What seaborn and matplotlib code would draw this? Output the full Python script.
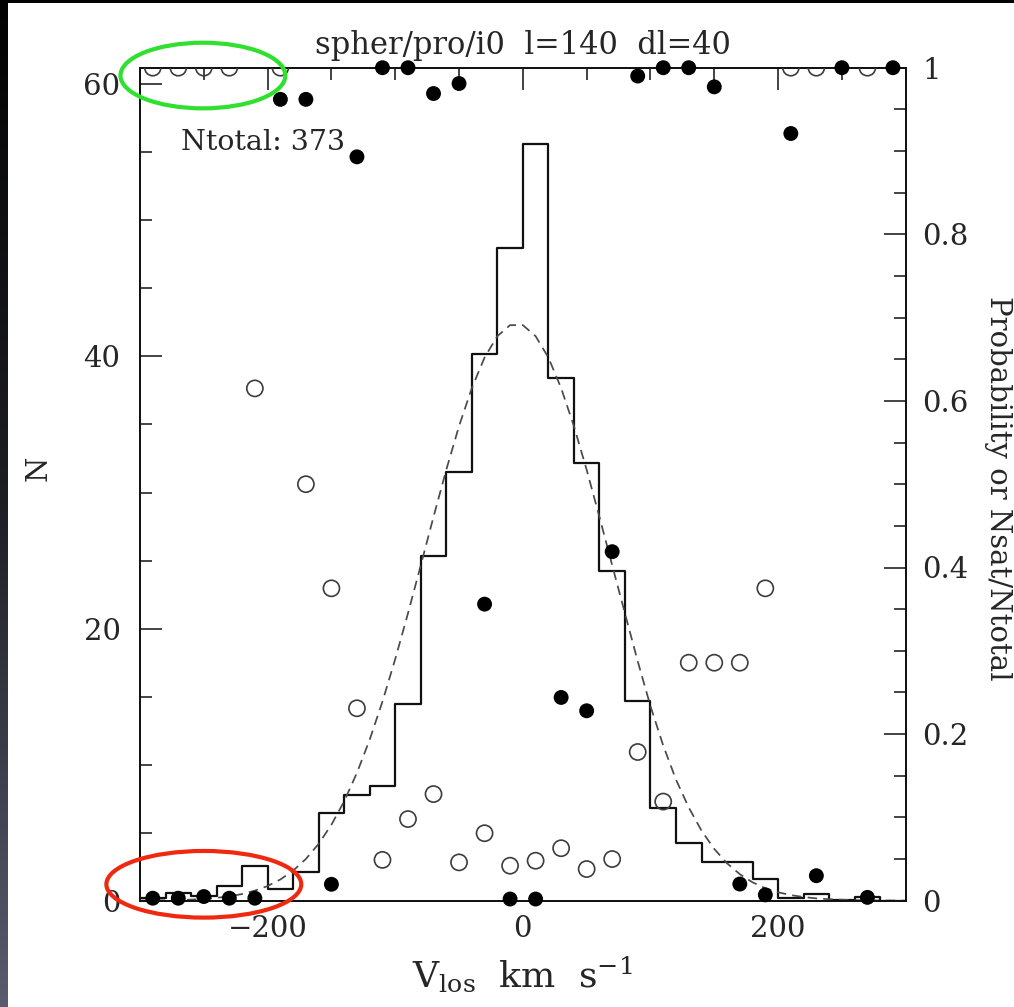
import numpy as np
import matplotlib
matplotlib.use("Agg")
import matplotlib.pyplot as plt
import seaborn as sns
from matplotlib.patches import Ellipse, Rectangle
from matplotlib.ticker import MultipleLocator, FixedLocator, FuncFormatter
from matplotlib.colors import LinearSegmentedColormap

# ---------------- data ----------------
bin_edges = [-300, -280, -260, -240, -220, -200, -180, -160, -140, -120, -100,
             -80, -60, -40, -20, 0, 20, 40, 60, 80, 100, 120, 140, 160, 180,
             200, 220, 240, 260, 280, 300]
hist_n = [0.2, 0.59, 0.35, 1.08, 2.55, 0.86, 2.09, 6.45, 7.8, 8.45, 14.46,
          25.3, 31.5, 40.2, 48.0, 55.6, 38.4, 32.2, 24.25, 14.68, 6.81, 4.22,
          2.84, 2.84, 1.59, 0.2, 0.47, 0.05, 0.25, 0.0]

fit_v = [-300, -290, -280, -270, -260, -250, -240, -230, -220, -210, -200,
         -190, -180, -170, -160, -150, -140, -130, -120, -110, -100, -90, -80,
         -70, -60, -50, -40, -30, -20, -10, 0, 10, 20, 30, 40, 50, 60, 70, 80,
         90, 100, 110, 120, 130, 140, 150, 160, 170, 180, 190, 200, 210, 220,
         230, 240, 250, 260, 270, 280, 290, 300]
fit_n = [0.01, 0.02, 0.03, 0.05, 0.08, 0.13, 0.21, 0.32, 0.49, 0.74, 1.08,
         1.56, 2.21, 3.07, 4.18, 5.58, 7.31, 9.40, 11.84, 14.64, 17.76, 21.12,
         24.65, 28.21, 31.67, 34.88, 37.67, 39.92, 41.49, 42.30, 42.30, 41.49,
         39.92, 37.67, 34.88, 31.67, 28.21, 24.65, 21.12, 17.60, 14.30, 11.40,
         8.90, 6.85, 5.15, 3.80, 2.75, 1.95, 1.35, 0.92, 0.62, 0.41, 0.27, 0.17,
         0.11, 0.07, 0.04, 0.025, 0.015, 0.01, 0.005]

# open circles (Nsat/Ntotal)
open_v = [-290, -270, -250, -230, -210, -190, -170, -150, -130, -110, -90,
          -70, -50, -30, -10, 10, 30, 50, 70, 90, 110, 130, 150, 170, 190,
          210, 230, 270]
open_p = [1.0, 1.0, 1.0, 1.0, 0.615, 1.0, 0.50, 0.375, 0.231, 0.049, 0.098,
          0.128, 0.046, 0.081, 0.042, 0.048, 0.063, 0.038, 0.050, 0.1785,
          0.119, 0.2857, 0.2857, 0.2857, 0.375, 1.0, 1.0, 1.0]

# filled circles (probability)
fill_v = [-290, -270, -250, -230, -210, -190, -170, -150, -130, -110, -90,
          -70, -50, -30, -10, 10, 30, 50, 70, 90, 110, 130, 150, 170, 190,
          210, 230, 250, 270, 290]
fill_p = [0.003, 0.003, 0.005, 0.003, 0.003, 0.962, 0.962, 0.0197, 0.893,
          1.0, 1.0, 0.969, 0.981, 0.356, 0.002, 0.002, 0.244, 0.228, 0.419,
          0.990, 1.0, 1.0, 0.977, 0.020, 0.007, 0.921, 0.030, 1.0, 0.004, 1.0]

title_text = "spher/pro/i0  l=140  dl=40"
ntotal_text = "Ntotal: 373"

# ---------------- style ----------------
sns.set_style("white")
plt.rcParams["font.family"] = ["DejaVu Serif"]
plt.rcParams["mathtext.fontset"] = "dejavuserif"
plt.rcParams["axes.unicode_minus"] = True

W, H = 1014, 1007
fig = plt.figure(figsize=(W / 100, H / 100), dpi=100)

# dark gradient background + white panel
bg = fig.add_axes([0, 0, 1, 1], zorder=-10)
grad = np.linspace(0, 1, 256)[:, None]
cmap = LinearSegmentedColormap.from_list("bg", ["#030303", "#1e1f25", "#585c6e"])
bg.imshow(grad, aspect="auto", cmap=cmap, extent=[0, 1, 0, 1], origin="upper")
bg.add_patch(Rectangle((8 / W, 0), 1 - 8 / W, 1004 / H, transform=bg.transAxes,
                       facecolor="white", edgecolor="none"))
bg.set_xlim(0, 1)
bg.set_ylim(0, 1)
bg.axis("off")

# main axes
ax = fig.add_axes([140 / W, (H - 900.7) / H, 765.7 / W, 833 / H])
ax.set_facecolor("white")

centers = [(a + b) / 2 for a, b in zip(bin_edges[:-1], bin_edges[1:])]
sns.histplot(x=centers, weights=hist_n, bins=bin_edges, element="step",
             fill=False, color="#111111", linewidth=1.6, ax=ax)
sns.lineplot(x=fit_v, y=fit_n, ax=ax, color="#4a4a4a", linewidth=1.25,
             linestyle=(0, (5.5, 3.5)))

ax2 = ax.twinx()
sns.scatterplot(x=open_v, y=open_p, ax=ax2, marker="o", s=135,
                facecolor="none", edgecolor="#3c3c3c", linewidth=1.2, zorder=3)
sns.scatterplot(x=fill_v, y=fill_p, ax=ax2, marker="o", s=115, color="black",
                edgecolor="none", linewidth=0, clip_on=False, zorder=4)

ax.set_xlim(-300, 300)
ax.set_ylim(0, 61.22)
ax2.set_ylim(0, 1)

# ticks
ax.xaxis.set_major_locator(FixedLocator([-200, 0, 200]))
ax.xaxis.set_minor_locator(MultipleLocator(50))
ax.yaxis.set_major_locator(MultipleLocator(20))
ax.yaxis.set_minor_locator(MultipleLocator(5))
ax.tick_params(which="both", direction="in", top=True, right=False,
               width=1.1, labelsize=21, color="#111111")
ax.tick_params(which="major", length=16)
ax.tick_params(which="minor", length=8.5)
ax.tick_params(axis="x", pad=10)
ax.tick_params(axis="y", pad=14)

ax2.yaxis.set_major_locator(MultipleLocator(0.2))
ax2.yaxis.set_minor_locator(MultipleLocator(0.05))
ax2.yaxis.set_major_formatter(FuncFormatter(lambda v, p: f"{v:g}"))
ax2.tick_params(which="both", direction="in", right=True, left=False,
                width=1.1, labelsize=21, pad=12, color="#111111")
ax2.tick_params(which="major", length=16)
ax2.tick_params(which="minor", length=8.5)

for a in (ax, ax2):
    for sp in a.spines.values():
        sp.set_linewidth(1.3)
        sp.set_color("#111111")
        sp.set_visible(True)

# labels
ax.set_xlabel(r"V$_{\rm los}$  km  s$^{-1}$", fontsize=26, va="center")
ax.xaxis.set_label_coords(0.499, -0.089)
ax.set_ylabel("N", fontsize=21, rotation=90, va="center", ha="center")
ax.yaxis.set_label_coords(-0.133, 0.519)
ax2.set_ylabel("Probability or Nsat/Ntotal", fontsize=21, rotation=270,
               va="center", ha="center")
ax2.yaxis.set_label_coords(1.120, 0.4955)

ax.set_title(title_text, fontsize=22, pad=10)
ax.text(-268, 55.7, ntotal_text, fontsize=20.5, ha="left", va="center")

# highlight ellipses
ax2.add_patch(Ellipse((-250.7, 0.9906), width=129.2, height=0.0788, fill=False,
                      edgecolor="#2fe02f", linewidth=3, clip_on=False, zorder=10))
ax2.add_patch(Ellipse((-250.0, 0.0197), width=152.7, height=0.080, fill=False,
                      edgecolor="#f02810", linewidth=3, clip_on=False, zorder=10))

fig.savefig("out.png", dpi=100)
